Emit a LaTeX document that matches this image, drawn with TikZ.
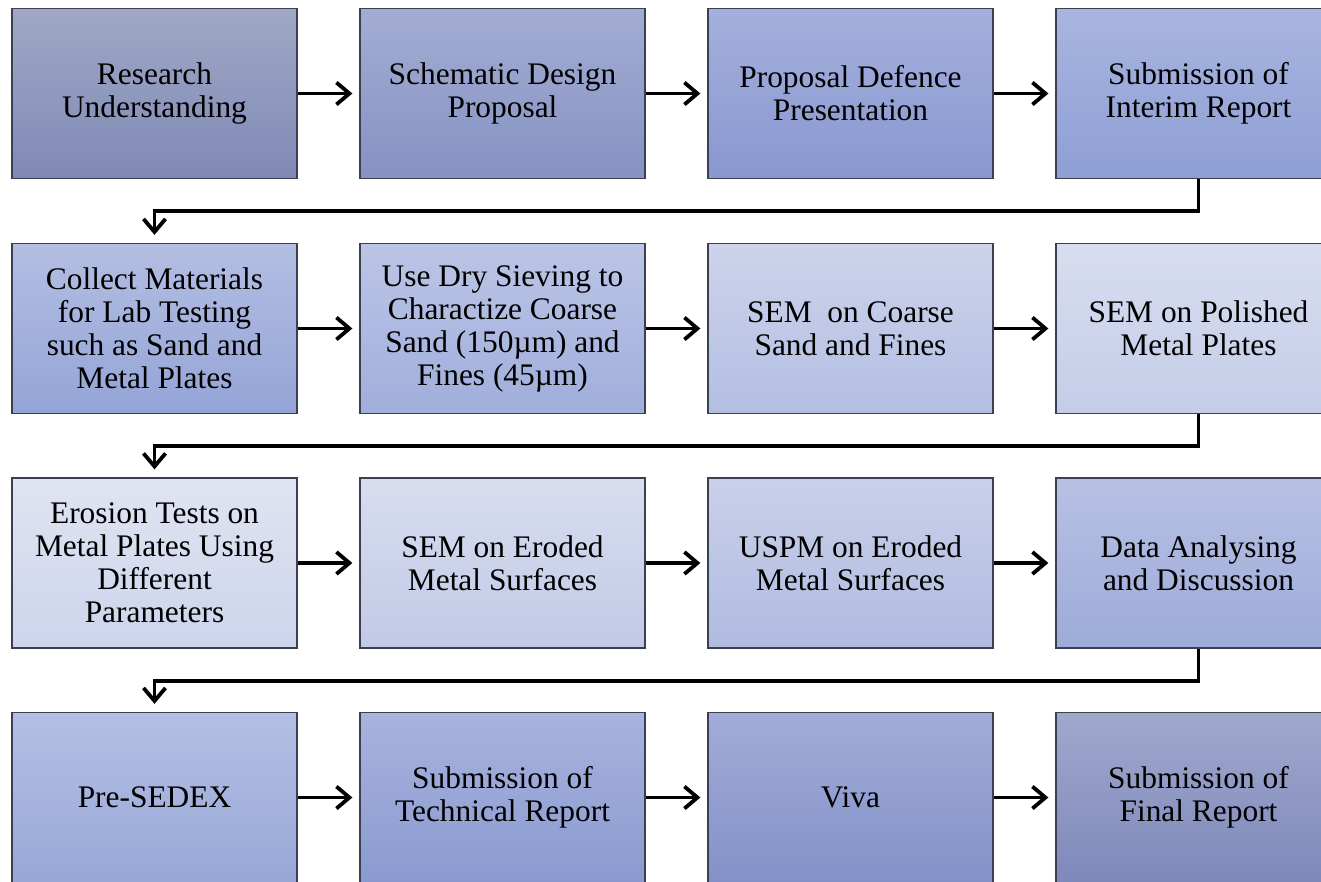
\documentclass[tikz,border=0pt]{standalone}
\usepackage{fontspec}
\setmainfont{Liberation Serif}
\usetikzlibrary{arrows.meta}
\definecolor{edgec}{HTML}{3C3F4F}
\definecolor{aT}{HTML}{A0A8C6}\definecolor{aB}{HTML}{7F89B5}
\definecolor{bT}{HTML}{A3ADD3}\definecolor{bB}{HTML}{8592C3}
\definecolor{cT}{HTML}{A4B0DC}\definecolor{cB}{HTML}{8897D0}
\definecolor{dT}{HTML}{A9B5E0}\definecolor{dB}{HTML}{8E9FD5}
\definecolor{eT}{HTML}{B3BEE2}\definecolor{eB}{HTML}{94A4D7}
\definecolor{fT}{HTML}{BBC5E6}\definecolor{fB}{HTML}{A0AEDB}
\definecolor{gT}{HTML}{CDD3EB}\definecolor{gB}{HTML}{B3BEE2}
\definecolor{hT}{HTML}{D8DDEF}\definecolor{hB}{HTML}{C4CCE8}
\definecolor{iT}{HTML}{E0E4F2}\definecolor{iB}{HTML}{CDD4EC}
\definecolor{jT}{HTML}{D8DDEF}\definecolor{jB}{HTML}{C1C9E6}
\definecolor{kT}{HTML}{C9D0EA}\definecolor{kB}{HTML}{B0BBE0}
\definecolor{lT}{HTML}{B7C1E3}\definecolor{lB}{HTML}{9DABD9}
\definecolor{mT}{HTML}{B4BFE3}\definecolor{mB}{HTML}{98A7D8}
\definecolor{nT}{HTML}{A8B3DE}\definecolor{nB}{HTML}{8A9AD0}
\definecolor{oT}{HTML}{A2ACD8}\definecolor{oB}{HTML}{8391C8}
\definecolor{pT}{HTML}{A0A8CC}\definecolor{pB}{HTML}{7E89BB}
\tikzset{
  stepbox/.style={rectangle, draw=edgec, line width=1.3pt, minimum width=285pt,
    minimum height=170pt, inner sep=0pt, align=center,
    font=\fontsize{31.4}{33}\selectfont},
  gr/.style 2 args={top color=#1, bottom color=#2},
  arr/.style={line width=3.8pt, -{Straight Barb[length=13pt,width=22pt]}},
}
\begin{document}
\begin{tikzpicture}[x=1pt,y=-1pt]
\useasboundingbox (0,0) rectangle (1321,881);
\clip (0,0) rectangle (1321,881);
% row 1
\node[stepbox, gr={aT}{aB}] (a) at (154.5,93.5) {Research\\Understanding};
\node[stepbox, gr={bT}{bB}] (b) at (502.5,93.5) {Schematic Design\\Proposal};
\node[stepbox, gr={cT}{cB}] (c) at (850.5,93.5) {Proposal Defence\\Presentation};
\node[stepbox, gr={dT}{dB}] (d) at (1198.5,93.5) {Submission of\\Interim Report};
% row 2
\node[stepbox, gr={eT}{eB}] (e) at (154.5,328.5) {Collect Materials\\for Lab Testing\\such as Sand and\\Metal Plates};
\node[stepbox, gr={fT}{fB}] (f) at (502.5,328.5) {Use Dry Sieving to\\Charactize Coarse\\Sand (150µm) and\\Fines (45µm)};
\node[stepbox, gr={gT}{gB}] (g) at (850.5,328.5) {SEM\ \ on Coarse\\Sand and Fines};
\node[stepbox, gr={hT}{hB}] (h) at (1198.5,328.5) {SEM on Polished\\Metal Plates};
% row 3
\node[stepbox, gr={iT}{iB}] (i) at (154.5,563) {Erosion Tests on\\Metal Plates Using\\Different\\Parameters};
\node[stepbox, gr={jT}{jB}] (j) at (502.5,563) {SEM on Eroded\\Metal Surfaces};
\node[stepbox, gr={kT}{kB}] (k) at (850.5,563) {USPM on Eroded\\Metal Surfaces};
\node[stepbox, gr={lT}{lB}] (l) at (1198.5,563) {Data Analysing\\and Discussion};
% row 4
\node[stepbox, gr={mT}{mB}] (m) at (154.5,797.5) {Pre-SEDEX};
\node[stepbox, gr={nT}{nB}] (n) at (502.5,797.5) {Submission of\\Technical Report};
\node[stepbox, gr={oT}{oB}] (o) at (850.5,797.5) {Viva};
\node[stepbox, gr={pT}{pB}] (p) at (1198.5,797.5) {Submission of\\Final Report};
% horizontal arrows
\foreach \s/\t in {a/b,b/c,c/d,e/f,f/g,g/h,i/j,j/k,k/l,m/n,n/o,o/p}
  \draw[arr, shorten >=7pt] (\s.east) -- (\t.west);
% row turns
\draw[arr, shorten >=8pt] (d.south) -- ++(0,31.5) -| (e.north);
\draw[arr, shorten >=8pt] (h.south) -- ++(0,32) -| (i.north);
\draw[arr, shorten >=8pt] (l.south) -- ++(0,32) -| (m.north);
\end{tikzpicture}
\end{document}
